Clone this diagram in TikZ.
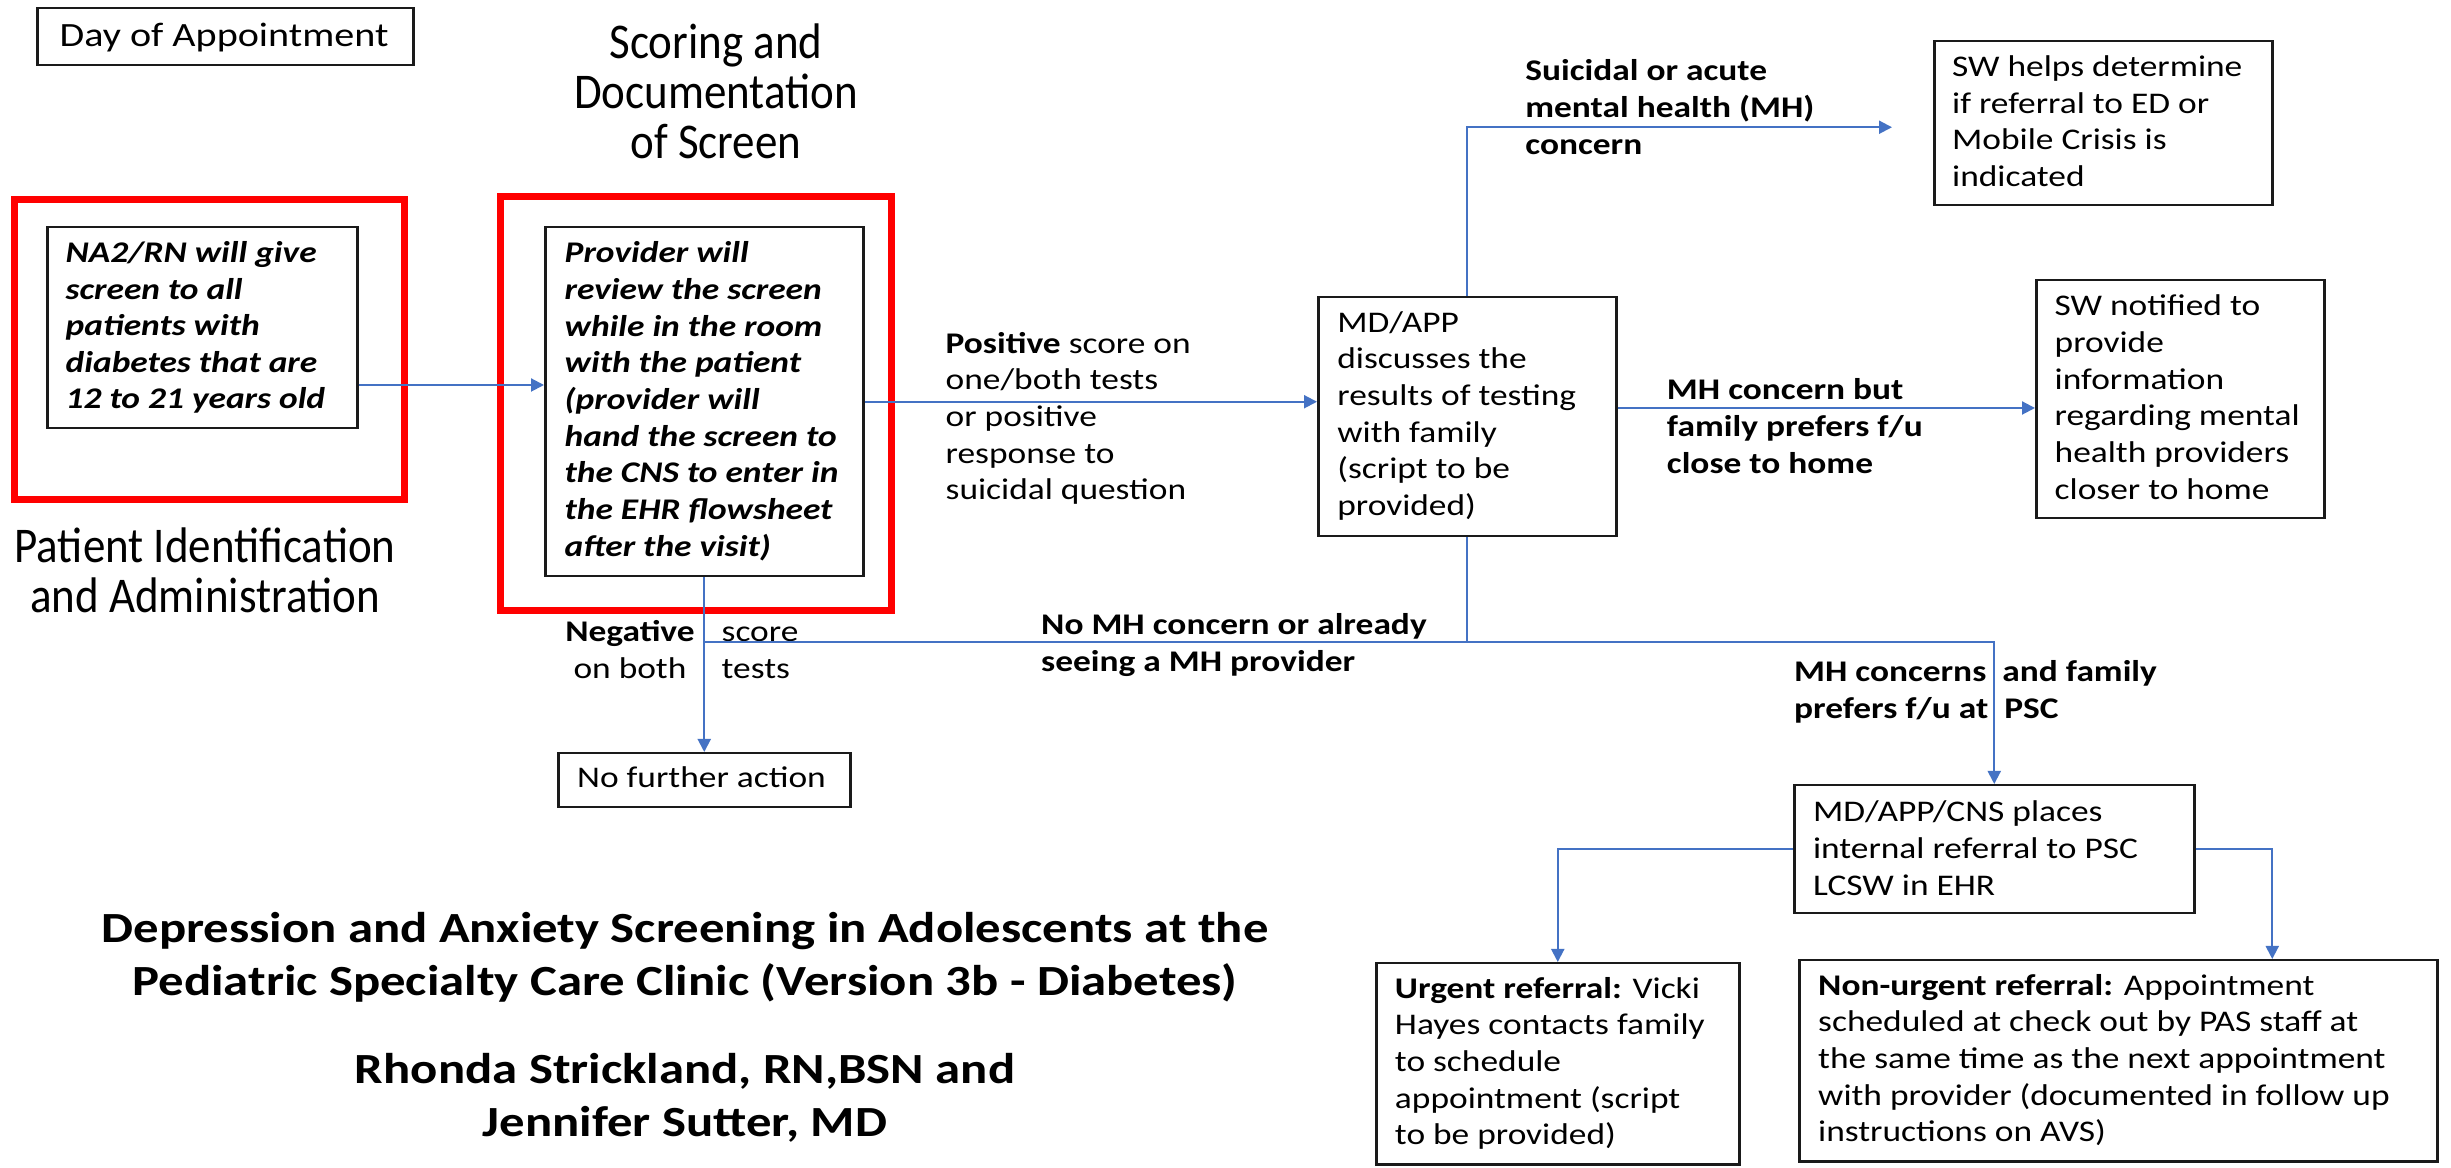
\documentclass[tikz,border=0pt]{standalone}
\usepackage{fontspec}
\setmainfont[FakeStretch=1.18]{Carlito}
\newfontfamily\headfont[FakeStretch=0.9]{Carlito}
\usetikzlibrary{arrows.meta,calc}
\definecolor{flowblue}{HTML}{4472C4}
\definecolor{redline}{HTML}{FF0000}
\definecolor{edgeline}{HTML}{1A1A1A}
\newcommand{\pxu}{0.3pt}
% stacked lines whose baseline is the first line (left or centred)
\newcommand{\leftlines}[1]{\vtop{\halign{##\hfil\cr#1\crcr}}}
\newcommand{\midlines}[1]{\vtop{\halign{\hfil##\hfil\cr#1\crcr}}}
\tikzset{
  box/.style={draw=edgeline, line width=0.75pt, inner sep=0pt, anchor=north west},
  redframe/.style={draw=redline, line width=2.2pt, inner sep=0pt, anchor=north west},
  boxsize/.style 2 args={minimum width=#1*\pxu, minimum height=#2*\pxu},
  body/.style={anchor=base west, inner sep=0pt, font=\fontsize{9pt}{11pt}\selectfont},
  lbl/.style={body, font=\fontsize{9pt}{11pt}\selectfont\bfseries},
  heading/.style={anchor=base, inner sep=0pt, font=\headfont\fontsize{15pt}{15.1pt}\selectfont},
  titletext/.style={anchor=base, inner sep=0pt, font=\fontsize{12.9pt}{15.9pt}\selectfont\bfseries},
  link/.style={draw=flowblue, line width=0.6pt},
  arr/.style={link, -{Triangle[length=3.9pt,width=3.9pt]}},
}
\begin{document}
\begin{tikzpicture}[x=0.3pt,y=-0.3pt]
\fill[white] (0,0) rectangle (2451,1168);
\useasboundingbox (0,0) rectangle (2451,1168);

% red frames around the first two stages
\node[redframe, boxsize={390}{300}] (idframe) at (11,196) {};
\node[redframe, boxsize={391}{414}] (scoreframe) at (497,193) {};

% headings
\node[box, boxsize={376}{57}] (day) at (36,7) {};
\node[body, font=\fontsize{10.2pt}{12pt}\selectfont] (daytxt) at (59,46.7) {Day of Appointment};
\node[heading] (scorehead) at (716,58.3) {\midlines{Scoring and\cr Documentation\cr of Screen}};
\node[heading, font=\headfont\fontsize{15pt}{14.9pt}\selectfont] (idhead) at (205,563)
  {\midlines{Patient Identification\cr and Administration}};

% process boxes
\node[box, boxsize={310}{201}] (na2) at (46,226) {};
\node[body, font=\fontsize{9pt}{10.95pt}\selectfont\bfseries\itshape] (na2txt) at (65,263)
  {\leftlines{NA2/RN will give\cr screen to all\cr patients with\cr diabetes that are\cr 12 to 21 years old}};

\node[box, boxsize={318}{349}] (prov) at (544,226) {};
\node[body, font=\fontsize{9pt}{11pt}\selectfont\bfseries\itshape] (provtxt) at (564,262.7)
  {\leftlines{Provider will\cr review the screen\cr while in the room\cr with the patient\cr (provider will\cr hand the screen to\cr the CNS to enter in\cr the EHR flowsheet\cr after the visit)}};

\node[box, boxsize={298}{239}] (mdapp) at (1317,296) {};
\node[body] (mdapptxt) at (1336.7,332.3)
  {\leftlines{MD/APP\cr discusses the\cr results of testing\cr with family\cr (script to be\cr provided)}};

\node[box, boxsize={338}{164}] (sw1) at (1933,40) {};
\node[body] (sw1txt) at (1951.5,76.5)
  {\leftlines{SW helps determine\cr if referral to ED or\cr Mobile Crisis is\cr indicated}};

\node[box, boxsize={288}{238}] (sw2) at (2035,279) {};
\node[body] (sw2txt) at (2054,315.7)
  {\leftlines{SW notified to\cr provide\cr information\cr regarding mental\cr health providers\cr closer to home}};

\node[box, boxsize={292}{54}] (nofurther) at (557,752) {};
\node[body] (nofurthertxt) at (576.5,788) {No further action};

\node[box, boxsize={400}{128}] (cns) at (1793,784) {};
\node[body] (cnstxt) at (1812.4,821.7)
  {\leftlines{MD/APP/CNS places\cr internal referral to PSC\cr LCSW in EHR}};

\node[box, boxsize={363}{201}] (urgent) at (1375,962) {};
\node[body] (urgenttxt) at (1394.3,998.3)
  {\leftlines{\textbf{Urgent referral:} Vicki\cr Hayes contacts family\cr to schedule\cr appointment (script\cr to be provided)}};

\node[box, boxsize={638}{201}] (nonurg) at (1798,959) {};
\node[body] (nonurgtxt) at (1817.5,995)
  {\leftlines{\textbf{Non-urgent referral:} Appointment\cr scheduled at check out by PAS staff at\cr the same time as the next appointment\cr with provider (documented in follow up\cr instructions on AVS)}};

% branch labels
\node[body] (poslbl) at (945,353.3)
  {\leftlines{\textbf{Positive} score on\cr one/both tests\cr or positive\cr response to\cr suicidal question}};
\node[lbl] (suilbl) at (1524.7,80.8) {\leftlines{Suicidal or acute\cr mental health (MH)\cr concern}};
\node[lbl] (mhbutlbl) at (1666.3,400) {\leftlines{MH concern but\cr family prefers f/u\cr close to home}};
\node[lbl] (nomhlbl) at (1040.5,635) {\leftlines{No MH concern or already\cr seeing a MH provider}};
\node[lbl] (psclbl) at (1793.4,681.7) {\leftlines{MH concerns\ \ and family\cr prefers f/u at\ \ PSC}};
\node[body, anchor=base] (neglbl) at (630,641.7) {\midlines{\textbf{Negative}\cr on both}};
\node[body] (scorelbl) at (721,641.7) {\leftlines{score\cr tests}};

% title and authors
\node[titletext] (title) at (685,942)
  {\midlines{Depression and Anxiety Screening in Adolescents at the\cr Pediatric Specialty Care Clinic (Version 3b - Diabetes)}};
\node[titletext] (authors) at (685,1083) {\midlines{Rhonda Strickland, RN,BSN and\cr Jennifer Sutter, MD}};

% connectors
\coordinate (y385) at (0,385);
\coordinate (y408) at (0,408);
\coordinate (y642) at (0,642);
\draw[arr] (na2.east |- y385) -- (prov.west |- y385);
\draw[arr] (prov.east) -- (mdapp.west |- prov.east);
\draw[arr] (prov.south) -- (nofurther.north);
\coordinate (swin) at ($(sw1.west)+(-41,4)$);
\draw[arr] (mdapp.north) |- (swin);
\draw[arr] (mdapp.east |- y408) -- (sw2.west |- y408);
\coordinate (j1) at (mdapp.south |- y642);
\draw[link] (mdapp.south) -- (j1) -- (prov.south |- j1);
\draw[arr] (j1) -| (cns.north);
\draw[arr] (cns.west) -| (urgent.north);
\coordinate (nuin) at ($(nonurg.north)+(154,0)$);
\draw[arr] (cns.east) -| (nuin);
\end{tikzpicture}
\end{document}
